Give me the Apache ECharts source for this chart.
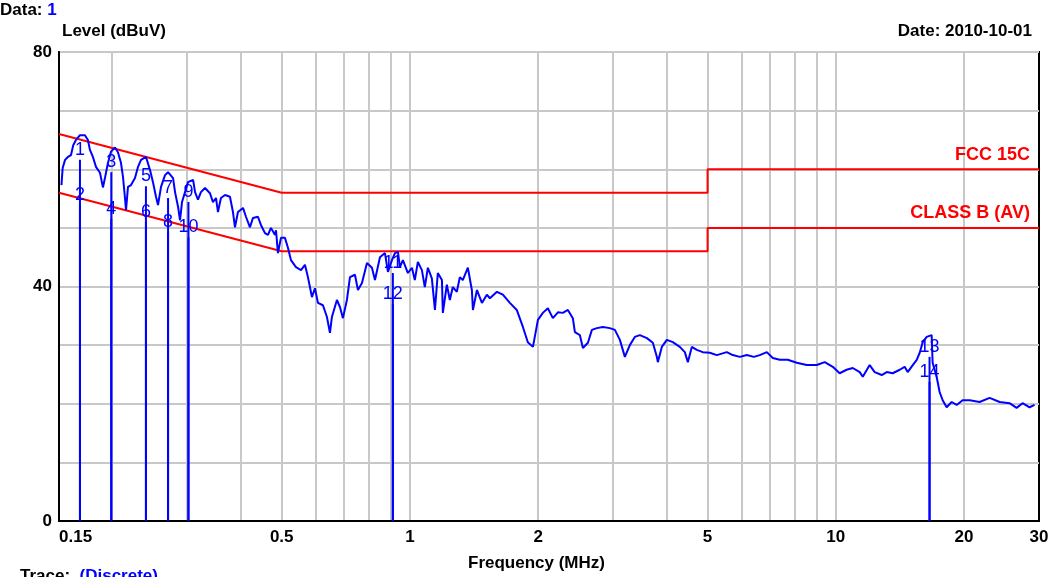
<!DOCTYPE html>
<html>
<head>
<meta charset="utf-8">
<script src="https://cdn.jsdelivr.net/npm/echarts@6/dist/echarts.min.js"></script>
<style>
html, body { margin: 0; padding: 0; background: #fff; }
#chart { width: 1057px; height: 577px; }
</style>
</head>
<body>
<div id="chart"></div>
<script>
// measured trace (MHz / dBuV)
var traceFreq = [
	0.152, 0.153, 0.155, 0.1574, 0.160, 0.162, 0.1644, 0.168, 0.1726, 0.1754,
	0.1773, 0.1802, 0.1832, 0.1872, 0.1902, 0.1923, 0.1955, 0.1987, 0.2030, 0.2063,
	0.2097, 0.2120, 0.2143, 0.2155, 0.2178, 0.2214, 0.2262, 0.2299, 0.2337, 0.2401,
	0.2427, 0.2453, 0.2493, 0.2534, 0.2562, 0.2604, 0.2661, 0.2705, 0.2779, 0.2809,
	0.2855, 0.2886, 0.2917, 0.2965, 0.3013, 0.3097, 0.3130, 0.3180, 0.3231, 0.3303,
	0.3393, 0.3448, 0.3505, 0.3543, 0.3600, 0.3681, 0.3780, 0.3842, 0.3884, 0.3947,
	0.4056, 0.4122, 0.4212, 0.4281, 0.4397, 0.4469, 0.4568, 0.4643, 0.4718, 0.4822,
	0.4848, 0.4900, 0.4980, 0.5089, 0.5172, 0.5257, 0.5401, 0.5550, 0.5670, 0.5762,
	0.5888, 0.5985, 0.6083, 0.6249, 0.6386, 0.6490, 0.6560, 0.6740, 0.6851, 0.6962,
	0.7114, 0.7232, 0.7430, 0.7551, 0.7717, 0.7928, 0.8145, 0.8279, 0.8505, 0.8739,
	0.8881, 0.9075, 0.9224, 0.9374, 0.9474, 0.9630, 0.9892, 1.011, 1.027, 1.044,
	1.067, 1.084, 1.102, 1.126, 1.145, 1.163, 1.189, 1.195, 1.221, 1.241,
	1.261, 1.289, 1.310, 1.331, 1.368, 1.398, 1.406, 1.437, 1.476, 1.516,
	1.541, 1.601, 1.653, 1.717, 1.782, 1.842, 1.892, 1.945, 1.998, 2.052,
	2.108, 2.166, 2.226, 2.286, 2.349, 2.413, 2.440, 2.507, 2.548, 2.618,
	2.675, 2.748, 2.838, 2.948, 3.029, 3.112, 3.197, 3.284, 3.374, 3.467,
	3.601, 3.719, 3.800, 3.821, 3.904, 4.011, 4.143, 4.303, 4.421, 4.494,
	4.591, 4.716, 4.872, 5.060, 5.256, 5.547, 5.729, 5.951, 6.181, 6.418,
	6.630, 6.886, 7.112, 7.386, 7.712, 8.098, 8.546, 9.023, 9.419, 9.839,
	10.21, 10.60, 10.96, 11.38, 11.57, 12.01, 12.34, 12.82, 13.17, 13.60,
	14.13, 14.51, 14.75, 15.16, 15.49, 15.74, 16.00, 16.35, 16.79, 16.88,
	17.25, 17.53, 17.82, 18.21, 18.71, 19.22, 19.85, 20.62, 21.76, 22.97,
	24.25, 25.59, 26.58, 27.45, 28.51, 29.29
];
var traceLevel = [
	57.3, 60.2, 61.6, 62.1, 62.4, 64.1, 65.0, 65.8, 65.8, 65.0,
	63.3, 62.1, 60.4, 59.4, 56.9, 58.5, 61.1, 63.0, 63.7, 62.9,
	61.1, 58.7, 55.1, 53.0, 57.0, 57.3, 58.5, 60.4, 61.6, 62.1,
	61.9, 59.9, 57.8, 55.3, 53.9, 57.0, 59.0, 59.5, 58.5, 56.1,
	53.6, 51.3, 54.4, 56.1, 57.8, 58.2, 56.1, 54.8, 56.1, 56.8,
	55.9, 54.4, 55.1, 52.7, 55.1, 55.6, 55.3, 52.7, 50.1, 52.7,
	53.4, 51.9, 50.1, 51.7, 51.9, 50.5, 49.1, 48.8, 50.0, 48.8,
	49.6, 45.7, 48.3, 48.3, 46.6, 44.5, 43.3, 42.8, 43.7, 41.6,
	38.2, 39.7, 37.2, 36.8, 34.8, 32.1, 34.8, 37.7, 36.5, 34.6,
	37.7, 41.6, 42.0, 39.4, 40.6, 44.0, 43.2, 41.1, 45.0, 45.7,
	42.5, 44.5, 45.7, 45.9, 43.3, 44.5, 42.3, 43.2, 41.1, 44.2,
	42.8, 39.9, 43.2, 41.4, 36.0, 42.3, 41.1, 35.5, 40.3, 37.7,
	39.9, 39.1, 41.6, 41.1, 43.2, 39.4, 36.0, 39.4, 37.2, 38.6,
	38.0, 39.1, 38.6, 37.2, 36.0, 33.1, 30.5, 29.7, 34.3, 35.5,
	36.3, 34.6, 35.6, 35.5, 36.0, 34.6, 32.2, 31.7, 29.5, 30.4,
	32.6, 32.9, 33.1, 32.9, 32.6, 30.9, 28.0, 30.0, 31.4, 31.7,
	31.2, 30.4, 28.0, 27.1, 29.7, 30.9, 30.5, 29.7, 28.8, 27.1,
	29.7, 29.2, 28.8, 28.7, 28.3, 28.8, 28.3, 28.0, 28.3, 28.0,
	28.3, 28.8, 27.8, 27.5, 27.5, 27.0, 26.6, 26.6, 27.1, 26.3,
	25.2, 25.8, 26.1, 25.4, 24.6, 26.6, 25.4, 24.9, 25.4, 25.2,
	25.8, 26.3, 25.4, 26.6, 27.5, 28.7, 30.5, 31.4, 31.7, 27.0,
	24.6, 22.0, 20.6, 19.4, 20.3, 19.8, 20.6, 20.6, 20.3, 21.0,
	20.3, 20.1, 19.3, 20.1, 19.4, 19.8
];

// limit lines
var qpFreq = [0.15, 0.5, 5, 5, 30];
var qpLevel = [66, 56, 56, 60, 60];
var avFreq = [0.15, 0.5, 5, 5, 30];
var avLevel = [56, 46, 46, 50, 50];

// markers
var markerNo = [1, 2, 3, 4, 5, 6, 7, 8, 9, 10, 11, 12, 13, 14];
var markerFreq = [0.168, 0.168, 0.199, 0.199, 0.240, 0.240, 0.2705, 0.2705, 0.302, 0.302, 0.912, 0.912, 16.6, 16.6];
var markerLevel = [61.6, 53.9, 59.5, 51.5, 57.1, 51.0, 55.1, 49.3, 54.4, 48.4, 42.3, 37.0, 28.0, 23.7];

// axis ticks
var xLabelFreq = [0.15, 0.5, 1, 2, 5, 10, 20, 30];
var xGridFreq = [0.2, 0.3, 0.4, 0.5, 0.6, 0.7, 0.8, 0.9, 1, 2, 3, 4, 5, 6, 7, 8, 9, 10, 20];
var yLabels = [0, 40, 80];

function lg(v) { return Math.log10(v); }
function pairs(f, l) {
	var out = [];
	for (var i = 0; i < f.length; i++) out.push([lg(f[i]), l[i]]);
	return out;
}

var myChart = echarts.init(document.getElementById('chart'));
var font = 'Liberation Sans';

var markerData = [];
for (var i = 0; i < markerNo.length; i++) {
	markerData.push([lg(markerFreq[i]), markerLevel[i], markerNo[i]]);
}

var option = {
	animation: false,
	backgroundColor: '#fff',
	textStyle: { fontFamily: font },
	title: [
		{
			text: '{a|Data: }{b|1}', left: 0, top: 2, padding: 0,
			textStyle: { rich: {
				a: { fontFamily: font, fontSize: 17, fontWeight: 'bold', color: '#000' },
				b: { fontFamily: font, fontSize: 17, fontWeight: 'bold', color: '#0000ff' }
			} }
		},
		{ text: 'Level (dBuV)', left: 62, top: 23, padding: 0,
			textStyle: { fontFamily: font, fontSize: 17, fontWeight: 'bold', color: '#000' } },
		{ text: 'Date: 2010-10-01', right: 25, top: 23, padding: 0,
			textStyle: { fontFamily: font, fontSize: 17, fontWeight: 'bold', color: '#000' } },
		{ text: 'Frequency (MHz)', left: 468, top: 555, padding: 0,
			textStyle: { fontFamily: font, fontSize: 17, fontWeight: 'bold', color: '#000' } },
		{
			text: '{a|Trace:  }{b|(Discrete)}', left: 20, top: 568, padding: 0,
			textStyle: { rich: {
				a: { fontFamily: font, fontSize: 17, fontWeight: 'bold', color: '#000' },
				b: { fontFamily: font, fontSize: 17, fontWeight: 'bold', color: '#0000ff' }
			} }
		},
		{ text: 'FCC 15C', right: 27, top: 146, padding: 0,
			textStyle: { fontFamily: font, fontSize: 18, fontWeight: 'bold', color: '#ff0000' } },
		{ text: 'CLASS B (AV)', right: 27, top: 204, padding: 0,
			textStyle: { fontFamily: font, fontSize: 18, fontWeight: 'bold', color: '#ff0000' } }
	],
	grid: {
		left: 59, right: 18, top: 52, bottom: 56,
		show: true, borderColor: '#000', borderWidth: 2, backgroundColor: '#fff'
	},
	xAxis: {
		type: 'value',
		min: lg(0.15),
		max: lg(30),
		axisLine: { show: true, onZero: false, lineStyle: { color: '#000', width: 2 } },
		axisTick: { show: false, customValues: xGridFreq.map(lg) },
		splitLine: { show: true, lineStyle: { color: '#c8c8c8', width: 2 } },
		axisLabel: {
			customValues: xLabelFreq.map(lg),
			alignMinLabel: 'left',
			margin: 8,
			color: '#000', fontFamily: font, fontSize: 17, fontWeight: 'bold',
			formatter: function (v) { return String(Math.round(Math.pow(10, v) * 100) / 100); }
		}
	},
	yAxis: {
		type: 'value',
		min: 0, max: 80, interval: 10,
		axisLine: { show: true, onZero: false, lineStyle: { color: '#000', width: 2 } },
		axisTick: { show: false },
		splitLine: { show: true, lineStyle: { color: '#c8c8c8', width: 2 } },
		axisLabel: {
			margin: 7,
			color: '#000', fontFamily: font, fontSize: 17, fontWeight: 'bold',
			formatter: function (v) { return yLabels.indexOf(v) >= 0 ? String(v) : ''; }
		}
	},
	series: [
		{
			type: 'line', name: 'FCC 15C', data: pairs(qpFreq, qpLevel),
			showSymbol: false, symbol: 'none', z: 3,
			lineStyle: { color: '#ff0000', width: 2 }
		},
		{
			type: 'line', name: 'CLASS B (AV)', data: pairs(avFreq, avLevel),
			showSymbol: false, symbol: 'none', z: 3,
			lineStyle: { color: '#ff0000', width: 2 }
		},
		{
			type: 'custom', name: 'markers', data: markerData, z: 4,
			renderItem: function (params, api) {
				var top = api.coord([api.value(0), api.value(1)]);
				var bottom = api.coord([api.value(0), 0]);
				return {
					type: 'group',
					children: [
						{ type: 'line', shape: { x1: top[0], y1: bottom[1], x2: top[0], y2: top[1] },
							style: { stroke: '#0000ff', lineWidth: 2 } },
						{ type: 'text', x: top[0], y: top[1] - 1,
							style: { text: String(api.value(2)), fill: '#0000ff', font: '18px "Liberation Sans"',
								align: 'center', verticalAlign: 'bottom' } }
					]
				};
			}
		},
		{
			type: 'line', name: 'Trace', data: pairs(traceFreq, traceLevel),
			showSymbol: false, symbol: 'none', z: 5,
			lineStyle: { color: '#0000ff', width: 2 }
		}
	]
};
myChart.setOption(option);
</script>
</body>
</html>
